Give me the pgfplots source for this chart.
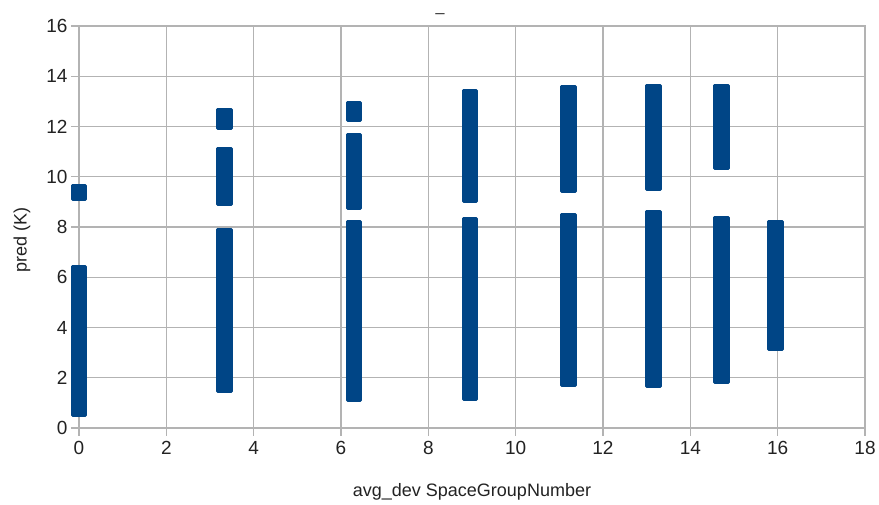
\documentclass[border=0pt]{standalone}
\usepackage{pgfplots}
\pgfplotsset{compat=1.18}
\usepackage{fontspec}
\setmainfont{Liberation Sans}
\definecolor{loblue}{HTML}{004586}
\definecolor{gridgray}{HTML}{B3B3B3}
\definecolor{textgray}{HTML}{222222}
\begin{document}
\begin{tikzpicture}
\path[use as bounding box] (-79pt,-77pt) rectangle (800pt,428pt);
\begin{axis}[
  at={(0pt,0pt)}, anchor=south west,
  scale only axis, width=786pt, height=402pt,
  xmin=0, xmax=18, ymin=0, ymax=16,
  xtick={0,2,...,18}, ytick={0,2,...,16},
  grid=major,
  major grid style={gridgray, line width=1.3pt},
  axis line style={gridgray, line width=1.3pt},
  tick style={gridgray, line width=1.3pt},
  tick align=outside, major tick length=8pt,
  tick pos=left,
  clip=false,
  /pgf/number format/assume math mode=true,
  tick label style={font=\fontsize{19}{22}\selectfont, text=textgray},
  xticklabel style={yshift=-2pt},
  xlabel={avg\_dev SpaceGroupNumber},
  ylabel={pred (K)},
  label style={font=\fontsize{18}{21}\selectfont, text=textgray},
  xlabel style={at={(axis description cs:0.5,-0.159)}, anchor=center},
  ylabel style={at={(axis description cs:-0.0725,0.468)}, anchor=center},
]
\addplot[only marks, mark=square*, mark size=6.8pt,
  mark options={fill=loblue, draw=loblue, line width=3pt, line join=round}]
  table[row sep=\\] {
  x y \\
  0 0.75 \\ 0 1.05 \\ 0 1.35 \\ 0 1.65 \\ 0 1.95 \\ 0 2.25 \\ 0 2.55 \\ 0 2.85 \\ 0 3.15 \\ 0 3.45 \\
  0 3.75 \\ 0 4.05 \\ 0 4.35 \\ 0 4.65 \\ 0 4.95 \\ 0 5.25 \\ 0 5.55 \\ 0 5.85 \\ 0 6.15 \\ 0 9.38 \\
  3.33 1.72 \\ 3.33 2.0 \\ 3.33 2.3 \\ 3.33 2.6 \\ 3.33 2.9 \\ 3.33 3.2 \\ 3.33 3.5 \\ 3.33 3.8 \\
  3.33 4.1 \\ 3.33 4.4 \\ 3.33 4.7 \\ 3.33 5.0 \\ 3.33 5.3 \\ 3.33 5.6 \\ 3.33 5.9 \\ 3.33 6.2 \\
  3.33 6.5 \\ 3.33 6.8 \\ 3.33 7.1 \\ 3.33 7.4 \\ 3.33 7.62 \\
  3.33 9.18 \\ 3.33 9.45 \\ 3.33 9.75 \\ 3.33 10.05 \\ 3.33 10.35 \\ 3.33 10.6 \\ 3.33 10.85 \\
  3.33 12.2 \\ 3.33 12.4 \\
  6.3 1.35 \\ 6.3 1.65 \\ 6.3 1.95 \\ 6.3 2.25 \\ 6.3 2.55 \\ 6.3 2.85 \\ 6.3 3.15 \\ 6.3 3.45 \\
  6.3 3.75 \\ 6.3 4.05 \\ 6.3 4.35 \\ 6.3 4.65 \\ 6.3 4.95 \\ 6.3 5.25 \\ 6.3 5.55 \\ 6.3 5.85 \\
  6.3 6.15 \\ 6.3 6.45 \\ 6.3 6.75 \\ 6.3 7.05 \\ 6.3 7.35 \\ 6.3 7.65 \\ 6.3 7.95 \\
  6.3 9.0 \\ 6.3 9.3 \\ 6.3 9.6 \\ 6.3 9.9 \\ 6.3 10.2 \\ 6.3 10.5 \\ 6.3 10.8 \\ 6.3 11.1 \\ 6.3 11.4 \\
  6.3 12.5 \\ 6.3 12.7 \\
  8.95 1.4 \\ 8.95 1.7 \\ 8.95 2.0 \\ 8.95 2.3 \\ 8.95 2.6 \\ 8.95 2.9 \\ 8.95 3.2 \\ 8.95 3.5 \\
  8.95 3.8 \\ 8.95 4.1 \\ 8.95 4.4 \\ 8.95 4.7 \\ 8.95 5.0 \\ 8.95 5.3 \\ 8.95 5.6 \\ 8.95 5.9 \\
  8.95 6.2 \\ 8.95 6.5 \\ 8.95 6.8 \\ 8.95 7.1 \\ 8.95 7.4 \\ 8.95 7.7 \\ 8.95 8.05 \\
  8.95 9.3 \\ 8.95 9.6 \\ 8.95 9.9 \\ 8.95 10.2 \\ 8.95 10.5 \\ 8.95 10.8 \\ 8.95 11.1 \\ 8.95 11.4 \\
  8.95 11.7 \\ 8.95 12.0 \\ 8.95 12.3 \\ 8.95 12.6 \\ 8.95 12.9 \\ 8.95 13.15 \\
  11.21 1.97 \\ 11.21 2.25 \\ 11.21 2.55 \\ 11.21 2.85 \\ 11.21 3.15 \\ 11.21 3.45 \\ 11.21 3.75 \\
  11.21 4.05 \\ 11.21 4.35 \\ 11.21 4.65 \\ 11.21 4.95 \\ 11.21 5.25 \\ 11.21 5.55 \\ 11.21 5.85 \\
  11.21 6.15 \\ 11.21 6.45 \\ 11.21 6.75 \\ 11.21 7.05 \\ 11.21 7.35 \\ 11.21 7.65 \\ 11.21 7.95 \\ 11.21 8.24 \\
  11.21 9.68 \\ 11.21 9.95 \\ 11.21 10.25 \\ 11.21 10.55 \\ 11.21 10.85 \\ 11.21 11.15 \\ 11.21 11.45 \\
  11.21 11.75 \\ 11.21 12.05 \\ 11.21 12.35 \\ 11.21 12.65 \\ 11.21 12.95 \\ 11.21 13.2 \\ 11.21 13.34 \\
  13.15 1.93 \\ 13.15 2.2 \\ 13.15 2.5 \\ 13.15 2.8 \\ 13.15 3.1 \\ 13.15 3.4 \\ 13.15 3.7 \\ 13.15 4.0 \\
  13.15 4.3 \\ 13.15 4.6 \\ 13.15 4.9 \\ 13.15 5.2 \\ 13.15 5.5 \\ 13.15 5.8 \\ 13.15 6.1 \\ 13.15 6.4 \\
  13.15 6.7 \\ 13.15 7.0 \\ 13.15 7.3 \\ 13.15 7.6 \\ 13.15 7.9 \\ 13.15 8.15 \\ 13.15 8.35 \\
  13.15 9.78 \\ 13.15 10.05 \\ 13.15 10.35 \\ 13.15 10.65 \\ 13.15 10.95 \\ 13.15 11.25 \\ 13.15 11.55 \\
  13.15 11.85 \\ 13.15 12.15 \\ 13.15 12.45 \\ 13.15 12.75 \\ 13.15 13.05 \\ 13.15 13.38 \\
  14.72 2.08 \\ 14.72 2.35 \\ 14.72 2.65 \\ 14.72 2.95 \\ 14.72 3.25 \\ 14.72 3.55 \\ 14.72 3.85 \\
  14.72 4.15 \\ 14.72 4.45 \\ 14.72 4.75 \\ 14.72 5.05 \\ 14.72 5.35 \\ 14.72 5.65 \\ 14.72 5.95 \\
  14.72 6.25 \\ 14.72 6.55 \\ 14.72 6.85 \\ 14.72 7.15 \\ 14.72 7.45 \\ 14.72 7.75 \\ 14.72 8.1 \\
  14.72 10.58 \\ 14.72 10.85 \\ 14.72 11.15 \\ 14.72 11.45 \\ 14.72 11.75 \\ 14.72 12.05 \\
  14.72 12.35 \\ 14.72 12.65 \\ 14.72 12.95 \\ 14.72 13.2 \\ 14.72 13.38 \\
  15.95 3.4 \\ 15.95 3.7 \\ 15.95 4.0 \\ 15.95 4.3 \\ 15.95 4.6 \\ 15.95 4.9 \\ 15.95 5.2 \\ 15.95 5.5 \\
  15.95 5.8 \\ 15.95 6.1 \\ 15.95 6.4 \\ 15.95 6.7 \\ 15.95 7.0 \\ 15.95 7.3 \\ 15.95 7.6 \\ 15.95 7.96 \\
  };
\end{axis}
\node[font=\fontsize{16}{18}\selectfont, text=textgray, anchor=south, inner sep=0pt] at (361pt,413pt) {\_};
\end{tikzpicture}
\end{document}
